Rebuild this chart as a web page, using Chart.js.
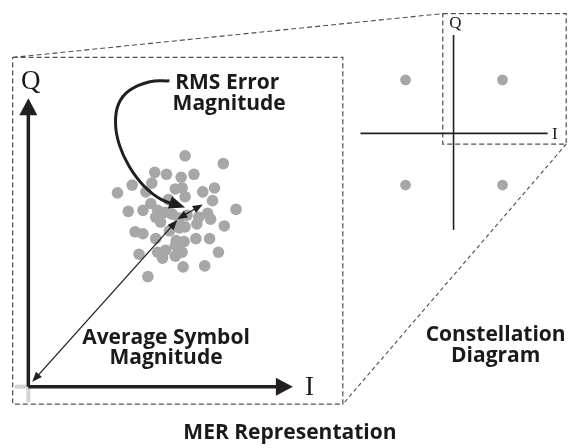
<!DOCTYPE html>
<html>
<head>
<meta charset="utf-8">
<script src="https://cdn.jsdelivr.net/npm/chart.js@4.4.0/dist/chart.umd.min.js"></script>
<style>
html,body{margin:0;padding:0;background:#fff}
#wrap{width:573px;height:448px}
</style>
</head>
<body>
<div id="wrap"><canvas id="mer"></canvas></div>
<script>
// everything is in I/Q units, origin = corner of the big I/Q axes
// received symbols scattered round one ideal point
const clusterI = [160,199,129,141,156,169,106,126,91,120,150,157,178,190,160,188,125,143,102,117,
  132,140,147,162,183,186,212,135,160,172,200,109,117,144,154,130,151,159,171,185,
  113,132,140,150,157,137,150,194,158,180,122,130,154,174]
const clusterQ = [237,229,220,218,215,218,207,209,199,200,203,204,200,204,195,191,188,192,180,181,
  181,179,177,176,178,172,182,169,164,167,165,159,157,160,163,152,150,149,152,152,
  136,138,140,145,138,132,134,138,123,124,113,174,173,174]
// ideal QPSK points in the inset
const idealI = [385,484,385,484]
const idealQ = [315,315,207,207]

// vectors
const axisII = [0,270], axisIQ = [0,0]
const axisQI = [0,0], axisQQ = [0,296]
const avgI = [4,152], avgQ = [5,171]
const rmsI = [152,178], rmsQ = [172,187]
const calloutI = [144,124,103,92,89,93,103,118,136,160]
const calloutQ = [314,313,304,290,270,248,226,206,192,184]

// inset axes
const insetHI = [339,530], insetHQ = [260,260]
const insetVI = [434,434], insetVQ = [161,361]

// frames and zoom lines
const frameI = [-16,321,321,-16,-16], frameQ = [338,338,-18,-18,338]
const insetBoxI = [423,549,549,423,423], insetBoxQ = [383,383,249,249,383]
const zoomTopI = [-16,423], zoomTopQ = [338,383]
const zoomBotI = [549,321], zoomBotQ = [249,-18]
const stubVI = [0,0], stubVQ = [0,-16]
const stubHI = [-14,-2], stubHQ = [0,0]

const labels = [
  {t:'Q', i:2.5, q:306, f:'27px "Liberation Serif"'},
  {t:'I', i:287, q:-9, f:'27px "Liberation Serif"'},
  {t:'Q', i:436, q:368, f:'17px "Liberation Serif"'},
  {t:'I', i:537.5, q:254, f:'17px "Liberation Serif"'},
  {t:'RMS Error', i:203, q:306},
  {t:'Magnitude', i:205, q:284},
  {t:'Average Symbol', i:140.5, q:44},
  {t:'Magnitude', i:140.5, q:23},
  {t:'Constellation', i:477, q:47},
  {t:'Diagram', i:477, q:25},
  {t:'MER Representation', i:267, q:-54}
]

const pts = (xs, ys) => xs.map((x,i)=>({x, y:ys[i]}))
const INK = '#231f20'
const DOT = '#a7a7a9'
const DASH = '#4d4d4d'

function line(xs, ys, o){
  return Object.assign({data:pts(xs,ys), showLine:true, pointRadius:0, borderColor:INK,
    backgroundColor:INK, borderWidth:1.3, clip:false, tension:0}, o)
}

// arrow heads: pull the line end back under the head, then draw the head
function headDir(p, ref){
  const dx = p.x-ref.x, dy = p.y-ref.y, d = Math.hypot(dx,dy)||1
  return {ux:dx/d, uy:dy/d}
}
function arrowEnds(ds, data){
  const n = data.length, out = []
  const a = ds.arrow
  if(a.start){
    const p = data[0]
    const ref = (p.cp2x!=null && Math.hypot(p.cp2x-p.x,p.cp2y-p.y)>0.5) ? {x:p.cp2x,y:p.cp2y} : data[1]
    out.push({p, ...headDir(p, ref)})
  }
  if(a.end){
    const p = data[n-1]
    const ref = (p.cp1x!=null && Math.hypot(p.cp1x-p.x,p.cp1y-p.y)>0.5) ? {x:p.cp1x,y:p.cp1y} : data[n-2]
    out.push({p, ...headDir(p, ref)})
  }
  return out
}
const arrowPlugin = {
  id:'arrows',
  beforeDatasetDraw(chart, args){
    const ds = chart.data.datasets[args.index]
    if(!ds.arrow) return
    ds._heads = arrowEnds(ds, args.meta.data).map(h=>{
      const tip = {x:h.p.x, y:h.p.y}
      h.p.x -= h.ux*ds.arrow.len*0.6
      h.p.y -= h.uy*ds.arrow.len*0.6
      return {...h, tip}
    })
  },
  afterDatasetDraw(chart, args){
    const ds = chart.data.datasets[args.index]
    if(!ds._heads) return
    const ctx = chart.ctx, L = ds.arrow.len, W = ds.arrow.width/2
    ctx.save()
    ctx.fillStyle = ds.borderColor
    ds._heads.forEach(h=>{
      h.p.x = h.tip.x; h.p.y = h.tip.y
      const bx = h.tip.x-h.ux*L, by = h.tip.y-h.uy*L
      ctx.beginPath()
      ctx.moveTo(h.tip.x, h.tip.y)
      ctx.lineTo(bx-h.uy*W, by+h.ux*W)
      ctx.lineTo(bx+h.uy*W, by-h.ux*W)
      ctx.closePath()
      ctx.fill()
    })
    ctx.restore()
    ds._heads = null
  }
}

const textPlugin = {
  id:'texts',
  afterDatasetsDraw(chart){
    const ctx = chart.ctx, sx = chart.scales.x, sy = chart.scales.y
    ctx.save()
    ctx.fillStyle = '#1a1a1a'
    ctx.textAlign = 'center'
    ctx.textBaseline = 'alphabetic'
    labels.forEach(l=>{
      ctx.font = l.f || 'bold 21px "Open Sans"'
      ctx.fillText(l.t, sx.getPixelForValue(l.i), sy.getPixelForValue(l.q))
    })
    ctx.restore()
  }
}

new Chart(document.getElementById('mer'), {
  type:'scatter',
  data:{datasets:[
    line(avgI, avgQ, {borderWidth:1.3, arrow:{start:true, end:true, len:10, width:8}}),
    line(rmsI, rmsQ, {borderWidth:1.3, arrow:{start:true, end:true, len:10, width:8}}),
    line(calloutI, calloutQ, {borderWidth:3, tension:0.4, arrow:{end:true, len:16, width:13}}),
    line(axisII, axisIQ, {borderWidth:3.5, arrow:{end:true, len:17, width:18}}),
    line(axisQI, axisQQ, {borderWidth:3.5, arrow:{end:true, len:17, width:18}}),
    line(insetHI, insetHQ, {borderWidth:1.6}),
    line(insetVI, insetVQ, {borderWidth:1.6}),
    {data:pts(clusterI, clusterQ), pointRadius:5.8, pointBackgroundColor:DOT, pointBorderWidth:0, clip:false},
    {data:pts(idealI, idealQ), pointRadius:5.4, pointBackgroundColor:DOT, pointBorderWidth:0, clip:false},
    line(stubVI, stubVQ, {borderWidth:4, borderColor:'#d4d4d4'}),
    line(stubHI, stubHQ, {borderWidth:4, borderColor:'#d4d4d4'}),
    line(frameI, frameQ, {borderWidth:1.2, borderColor:DASH, borderDash:[5,3]}),
    line(insetBoxI, insetBoxQ, {borderWidth:1.2, borderColor:DASH, borderDash:[5,3]}),
    line(zoomTopI, zoomTopQ, {borderWidth:1.1, borderColor:DASH, borderDash:[5,3]}),
    line(zoomBotI, zoomBotQ, {borderWidth:1.1, borderColor:DASH, borderDash:[4,3]})
  ]},
  options:{
    responsive:true,
    maintainAspectRatio:false,
    animation:false,
    events:[],
    layout:{padding:0},
    scales:{
      x:{type:'linear', min:-23, max:550, display:false},
      y:{type:'linear', min:-57, max:391, display:false}
    },
    plugins:{legend:{display:false}, tooltip:{enabled:false}}
  },
  plugins:[arrowPlugin, textPlugin]
})
</script>
</body>
</html>
